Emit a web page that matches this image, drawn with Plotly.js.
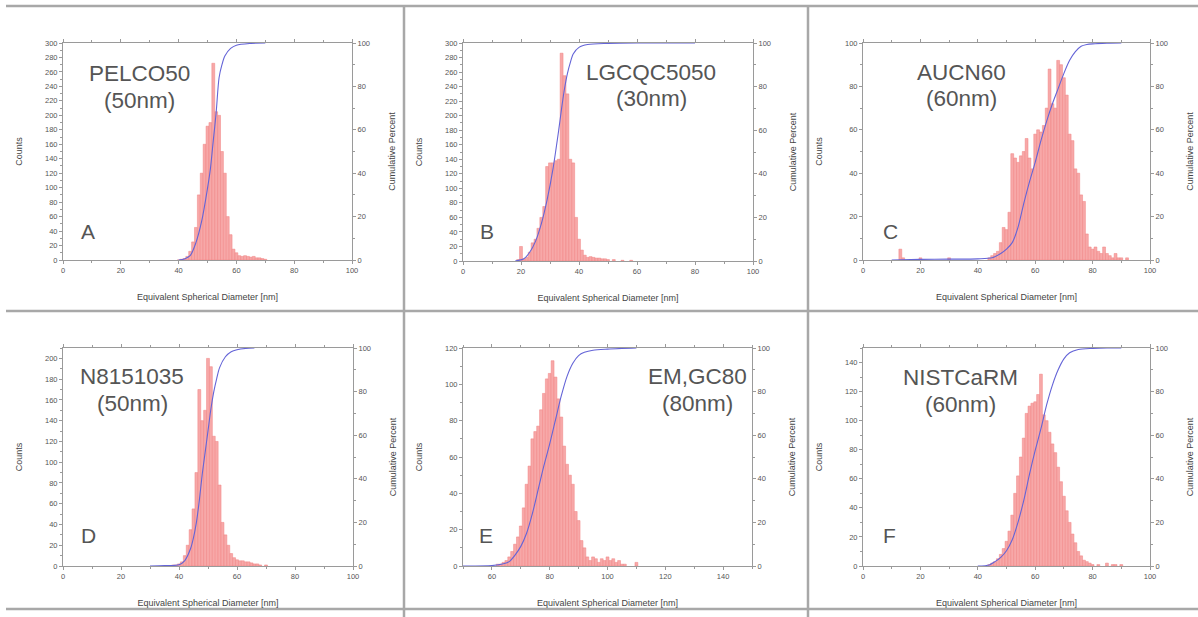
<!DOCTYPE html>
<html>
<head>
<meta charset="utf-8">
<script src="https://cdn.plot.ly/plotly-3.0.1.min.js"></script>
<style>html,body{margin:0;padding:0;background:#fff;}#chart{width:1198px;height:617px;}</style>
</head>
<body>
<div id="chart"></div>
<script>
// ---------- data ----------
var panelNames = ["PELCO50", "LGCQC5050", "AUCN60", "N8151035", "EM,GC80", "NISTCaRM"];
var panelSizes = ["(50nm)", "(30nm)", "(60nm)", "(50nm)", "(80nm)", "(60nm)"];
var panelLetters = ["A", "B", "C", "D", "E", "F"];

var diamA = [40,41,42,43,44,45,46,47,48,49,50,51,52,53,54,55,56,57,58,59,60,61,62,63,64,65,66,67,68,69,70];
var countsA = [0,1,2,5,12,25,45,90,120,160,185,190,272,205,200,150,120,60,35,15,10,6,5,6,5,4,5,3,3,2,1];
var cumXA = [40,42,44,46,48,50,51,52,53,54,55,56,58,60,65,70];
var cumYA = [0,0.5,2,8,18,33,42,55,68,84,90,94,97.5,99,99.8,100];

var diamB = [19,20,21,22,23,24,25,26,27,28,29,30,31,32,33,34,35,36,37,38,39,40,41,42,43,44,45,46,47,48,49,50,52,55,58];
var countsB = [2,20,3,5,12,25,30,45,60,75,130,135,135,138,140,286,255,230,140,135,60,30,15,8,5,6,5,4,4,3,3,2,2,1,1];
var cumXB = [18,21,23,25,27,29,31,33,34,35,36,37,38,40,43,50,60,80];
var cumYB = [0,1,4,9,17,28,42,60,70,79,86,91,95,98,99.3,99.8,100,100];

var diamC = [13,14,20,30,44,45,46,47,48,49,50,51,52,53,54,55,56,57,58,59,60,61,62,63,64,65,66,67,68,69,70,71,72,73,74,75,76,77,78,79,80,81,82,83,84,85,86,87,88,89,90,92];
var countsC = [5,1,1,1,1,2,3,4,8,15,14,22,49,47,45,48,50,56,47,42,58,60,59,62,70,88,72,70,92,90,84,76,58,55,42,40,30,27,12,6,5,6,4,3,6,3,2,1,3,1,1,1];
var cumXC = [10,20,30,40,45,48,50,52,54,56,58,60,62,64,66,68,70,72,74,76,78,80,85,90];
var cumYC = [0,0.3,0.4,0.5,1,3,5,8,15,26,36,45,55,64,72,79,86,92,96,98.5,99.3,99.6,99.9,100];

var diamD = [38,39,40,41,42,43,44,45,46,47,48,49,50,51,52,53,54,55,56,57,58,59,60,61,62,63,64,65,66,67,68,70];
var countsD = [1,1,2,4,10,20,35,55,90,170,140,150,200,192,125,120,78,42,30,20,12,8,6,5,5,4,4,3,2,2,1,1];
var cumXD = [30,35,40,42,44,45,46,47,48,49,50,51,52,53,54,56,58,60,63,66];
var cumYD = [0,0.2,0.6,2.5,8,13,20,30,42,52,62,72,80,86,91,96,98.3,99.2,99.8,100];

var diamE = [62,63,64,65,66,67,68,69,70,71,72,73,74,75,76,77,78,79,80,81,82,83,84,85,86,87,88,89,90,91,92,93,94,95,96,97,98,99,100,101,102,103,104,105,106,110];
var countsE = [1,1,2,3,5,8,12,16,22,32,45,55,70,74,77,86,95,103,106,113,104,92,82,66,56,50,45,30,25,14,10,5,3,5,4,2,4,3,5,3,4,2,3,1,1,2];
var cumXE = [50,60,64,66,68,70,72,74,76,78,80,82,84,86,88,90,92,95,100,105,110];
var cumYE = [0,0.2,1,2,5,9,15,24,35,46,56,67,78,87,93,96.5,98,99,99.5,99.8,100];

var diamF = [44,45,46,47,48,49,50,51,52,53,54,55,56,57,58,59,60,61,62,63,64,65,66,67,68,69,70,71,72,73,74,75,76,77,78,79,80,82,85,87,88,90];
var countsF = [1,2,3,5,8,12,17,24,35,50,62,75,88,105,110,112,113,118,132,104,100,92,84,78,68,58,48,38,30,22,16,10,7,4,3,2,1,1,2,1,1,1];
var cumXF = [40,44,46,48,50,52,54,56,58,60,62,64,66,68,70,72,75,80,85,90];
var cumYF = [0,0.5,2,4,7,12,20,30,42,53,63,74,83,90,95,97.8,99.3,99.8,100,100];

var xRanges = [[0,100],[0,100],[0,100],[0,100],[50,150],[0,100]];
var countRanges = [[0,300],[0,300],[0,100],[0,210],[0,120],[0,150]];

var xTitle = "Equivalent Spherical Diameter [nm]";
var yTitle = "Counts";
var y2Title = "Cumulative Percent";

// ---------- layout geometry (pixels) ----------
var W = 1198, H = 617;
var boxes = [
  [63, 352, 43, 260], [463, 753, 43, 261], [863, 1150, 43, 260],
  [63, 353, 348, 566], [463, 752, 348, 566], [863, 1150, 348, 566]
];
var nameCenters = [[139, 73, 101, 88, 231], [651, 72, 98, 487, 231], [961, 72, 98, 890, 231],
                   [132, 376, 403, 88, 535], [697, 376, 403, 486, 535], [960, 377, 404, 889, 535]];

var diams = [diamA, diamB, diamC, diamD, diamE, diamF];
var counts = [countsA, countsB, countsC, countsD, countsE, countsF];
var cumXs = [cumXA, cumXB, cumXC, cumXD, cumXE, cumXF];
var cumYs = [cumYA, cumYB, cumYC, cumYD, cumYE, cumYF];

var axisColor = "#9a9a9a";
var tickFont = {family: "Liberation Sans, Arial, sans-serif", size: 7.5, color: "#555"};
var titleFont = {family: "Liberation Sans, Arial, sans-serif", size: 9, color: "#444"};

var data = [];
var layout = {
  width: W, height: H,
  margin: {l: 0, r: 0, t: 0, b: 0},
  paper_bgcolor: "#fff", plot_bgcolor: "#fff",
  showlegend: false, bargap: 0,
  annotations: [], shapes: []
};

for (var i = 0; i < 6; i++) {
  var n = i + 1, n2 = i + 7;
  var b = boxes[i];
  data.push({
    type: "bar", x: diams[i], y: counts[i], width: 1,
    xaxis: "x" + n, yaxis: "y" + n,
    marker: {color: "rgb(247,168,168)", line: {color: "rgb(240,130,130)", width: 0.5}},
    hoverinfo: "x+y"
  });
  data.push({
    type: "scatter", mode: "lines", x: cumXs[i], y: cumYs[i],
    xaxis: "x" + n, yaxis: "y" + n2,
    line: {color: "rgb(100,100,215)", width: 1.1, shape: "spline", smoothing: 0.8}
  });
  layout["xaxis" + n] = {
    domain: [b[0] / W, b[1] / W], anchor: "y" + n, range: xRanges[i],
    tick0: 0, dtick: 20, showgrid: false, zeroline: false,
    showline: true, linecolor: axisColor, linewidth: 1, mirror: "ticks",
    ticks: "outside", ticklen: 3, tickcolor: axisColor, tickfont: tickFont,
    minor: {ticks: "outside", ticklen: 2, dtick: 10, tickcolor: axisColor, showgrid: false},
    title: {text: xTitle, font: titleFont, standoff: 19}
  };
  layout["yaxis" + n] = {
    domain: [1 - b[3] / H, 1 - b[2] / H], anchor: "x" + n, range: countRanges[i],
    dtick: 20, showgrid: false, zeroline: false,
    showline: true, linecolor: axisColor, linewidth: 1,
    ticks: "outside", ticklen: 3, tickcolor: axisColor, tickfont: tickFont,
    minor: {ticks: "outside", ticklen: 2, dtick: 10, tickcolor: axisColor, showgrid: false},
    title: {text: yTitle, font: titleFont, standoff: 20}
  };
  layout["yaxis" + n2] = {
    overlaying: "y" + n, side: "right", anchor: "x" + n, range: [0, 100],
    dtick: 20, showgrid: false, zeroline: false,
    showline: true, linecolor: axisColor, linewidth: 1,
    ticks: "outside", ticklen: 3, tickcolor: axisColor, tickfont: tickFont,
    minor: {ticks: "outside", ticklen: 2, dtick: 10, tickcolor: axisColor, showgrid: false},
    title: {text: y2Title, font: titleFont, standoff: 19}
  };
  var c = nameCenters[i];
  var nameFont = {family: "Liberation Sans, Arial, sans-serif", size: 22.5, color: "#555"};
  layout.annotations.push({xref: "paper", yref: "paper", x: c[0] / W, y: 1 - c[1] / H,
    text: panelNames[i], showarrow: false, font: nameFont, xanchor: "center", yanchor: "middle"});
  layout.annotations.push({xref: "paper", yref: "paper", x: c[0] / W, y: 1 - c[2] / H,
    text: panelSizes[i], showarrow: false, font: nameFont, xanchor: "center", yanchor: "middle"});
  layout.annotations.push({xref: "paper", yref: "paper", x: c[3] / W, y: 1 - c[4] / H,
    text: panelLetters[i], showarrow: false,
    font: {family: "Liberation Sans, Arial, sans-serif", size: 21, color: "#555"},
    xanchor: "center", yanchor: "middle"});
}

// panel separator lines
var sepColor = "#a8a8a8";
function pline(x0, y0, x1, y1) {
  layout.shapes.push({type: "line", xref: "paper", yref: "paper",
    x0: x0 / W, y0: 1 - y0 / H, x1: x1 / W, y1: 1 - y1 / H,
    line: {color: sepColor, width: 2.5}});
}
pline(6, 6, 1198, 6);
pline(6, 311, 1198, 311);
pline(6, 609, 1198, 609);
pline(404, 6, 404, 617);
pline(808, 6, 808, 617);

Plotly.newPlot("chart", data, layout, {displayModeBar: false, staticPlot: true});
</script>
</body>
</html>
